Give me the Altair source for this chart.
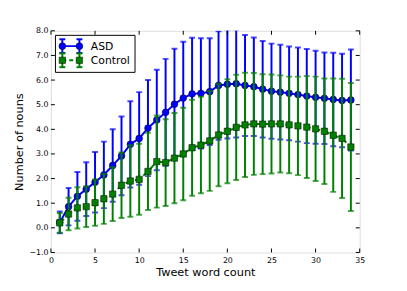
import altair as alt
import pandas as pd

# ---------------- data ----------------
word_count = list(range(1, 35))

asd_mean = [0.22, 0.86, 1.28, 1.57, 1.85, 2.15, 2.53, 2.92, 3.39, 3.63, 4.05, 4.38,
            4.69, 5.02, 5.27, 5.44, 5.46, 5.53, 5.78, 5.83, 5.85, 5.78, 5.73, 5.63,
            5.55, 5.51, 5.46, 5.41, 5.35, 5.30, 5.26, 5.21, 5.17, 5.19]
asd_err = [0.44, 0.76, 0.99, 1.09, 1.23, 1.35, 1.47, 1.60, 1.75, 1.88, 1.95, 2.04,
           2.17, 2.25, 2.29, 2.28, 2.24, 2.17, 2.20, 2.20, 2.18, 2.05, 2.00, 1.96,
           1.93, 1.92, 1.90, 1.91, 1.91, 1.89, 1.86, 1.90, 1.90, 2.05]

control_mean = [0.20, 0.56, 0.81, 0.86, 1.02, 1.18, 1.37, 1.73, 1.90, 1.97, 2.29, 2.69,
                2.65, 2.83, 3.00, 3.25, 3.36, 3.53, 3.77, 3.92, 4.08, 4.18, 4.22, 4.21,
                4.22, 4.22, 4.18, 4.14, 4.09, 4.02, 3.92, 3.76, 3.63, 3.28]
control_err = [0.40, 0.66, 0.84, 0.83, 0.94, 1.02, 1.09, 1.33, 1.45, 1.44, 1.57, 1.87,
               1.76, 1.83, 1.88, 1.95, 1.96, 2.03, 2.08, 2.11, 2.14, 2.12, 2.07, 2.03,
               2.01, 1.97, 1.96, 2.00, 2.07, 2.12, 2.14, 2.30, 2.42, 2.60]

series_names = ["ASD", "Control"]
series_colors = ["#0000ff", "#008000"]
series_shapes = ["circle", "square"]

x_ticks = [0, 5, 10, 15, 20, 25, 30, 35]
y_ticks = [-1, 0, 1, 2, 3, 4, 5, 6, 7, 8]

# ---------------- layout ----------------
W, H = 314.3, 225.6
FONT = "DejaVu Sans"


def frame(name, mean, err):
    return pd.DataFrame({
        "x": word_count,
        "mean": mean,
        "lo": [m - e for m, e in zip(mean, err)],
        "hi": [m + e for m, e in zip(mean, err)],
        "series": name,
    })


data = {"ASD": frame("ASD", asd_mean, asd_err),
        "Control": frame("Control", control_mean, control_err)}

xscale = alt.Scale(domain=[0, 35], nice=False, zero=False)
yscale = alt.Scale(domain=[-1, 8], nice=False, zero=False)

X = alt.X("x:Q", scale=xscale,
          axis=alt.Axis(values=x_ticks, grid=False, ticks=False, domain=False,
                        labelFont=FONT, labelFontSize=8, labelPadding=4, labelColor="black",
                        labelOverlap=False, labelFlush=False,
                        title="Tweet word count", titleFont=FONT, titleFontSize=11.5,
                        titleFontWeight="normal", titlePadding=2, titleColor="black"))


def Y(field):
    return alt.Y(field, scale=yscale,
                 axis=alt.Axis(values=y_ticks, format=".1f", grid=False, ticks=False,
                               domain=False, labelFont=FONT, labelFontSize=8,
                               labelPadding=3, labelColor="black", labelOverlap=False,
                               labelFlush=False, title="Number of nouns", titleFont=FONT,
                               titleFontSize=11.5, titleFontWeight="normal",
                               titlePadding=4, titleColor="black"))


layers = []
for name, color, shape in zip(series_names, series_colors, series_shapes):
    base = alt.Chart(data[name])
    dash = [1, 0] if name == "ASD" else [6, 4]
    bars = base.mark_rule(color=color, strokeWidth=2, clip=True).encode(
        x=X, y=Y("lo:Q"), y2="hi:Q")
    cap_lo = base.mark_tick(color=color, orient="horizontal", size=6, thickness=2,
                            clip=True).encode(x=X, y=Y("lo:Q"))
    cap_hi = base.mark_tick(color=color, orient="horizontal", size=6, thickness=2,
                            clip=True).encode(x=X, y=Y("hi:Q"))
    line = base.mark_line(color=color, strokeWidth=2, strokeDash=dash, clip=True).encode(
        x=X, y=Y("mean:Q"))
    pts = base.mark_point(shape=shape, filled=True, color=color, size=48 if shape == "circle" else 42,
                          opacity=1, stroke="black", strokeWidth=0.5, clip=True).encode(
        x=X, y=Y("mean:Q"))
    layers += [bars, cap_lo, cap_hi, line, pts]

# inward ticks on all four sides
xt = alt.Chart(pd.DataFrame({"x": x_ticks}))
yt = alt.Chart(pd.DataFrame({"y": y_ticks}))
TL = 4
layers += [
    xt.mark_rule(color="black", strokeWidth=1).encode(x=X, y=alt.value(H), y2=alt.value(H - TL)),
    xt.mark_rule(color="black", strokeWidth=1).encode(x=X, y=alt.value(0), y2=alt.value(TL)),
    yt.mark_rule(color="black", strokeWidth=1).encode(y=Y("y:Q"), x=alt.value(0), x2=alt.value(TL)),
    yt.mark_rule(color="black", strokeWidth=1).encode(y=Y("y:Q"), x=alt.value(W - TL), x2=alt.value(W)),
]

# legend (drawn manually, matplotlib style)
one = alt.Chart(pd.DataFrame({"k": [0]}))
layers.append(one.mark_rect(fill="white", stroke="black", strokeWidth=1).encode(
    x=alt.value(4.6), x2=alt.value(85.6), y=alt.value(4.6), y2=alt.value(42.3)))

leg_y = {"ASD": 15.6, "Control": 30.0}
hx = [11.6, 29.0]
for name, color, shape in zip(series_names, series_colors, series_shapes):
    yy = leg_y[name]
    lc = alt.Chart(pd.DataFrame({"label": [name]}))
    dash = [1, 0] if name == "ASD" else [4, 3]
    layers.append(lc.mark_rule(color=color, strokeWidth=2, strokeDash=dash).encode(
        x=alt.value(hx[0]), x2=alt.value(hx[1]), y=alt.value(yy)))
    for px in hx:
        layers.append(lc.mark_rule(color=color, strokeWidth=2).encode(
            x=alt.value(px), y=alt.value(yy - 7), y2=alt.value(yy + 7)))
        for dy in (-7, 7):
            layers.append(lc.mark_rule(color=color, strokeWidth=2).encode(
                x=alt.value(px - 3), x2=alt.value(px + 3), y=alt.value(yy + dy)))
        layers.append(lc.mark_point(shape=shape, filled=True, color=color,
                                    size=48 if shape == "circle" else 42, opacity=1,
                                    stroke="black", strokeWidth=0.5).encode(
            x=alt.value(px), y=alt.value(yy)))
    layers.append(lc.mark_text(align="left", baseline="middle", font=FONT, fontSize=11,
                               color="black").encode(
        x=alt.value(40.6), y=alt.value(yy + 0.5), text="label:N"))

chart = alt.layer(*layers).properties(
    width=W, height=H,
    padding={"left": 43.7, "top": 20.7, "right": 40, "bottom": 36},
    autosize=alt.AutoSizeParams(type="none"),
).configure_view(stroke="black", strokeWidth=1).configure(background="white")

chart.save("out.html", embed_options={"renderer": "svg", "actions": False})
